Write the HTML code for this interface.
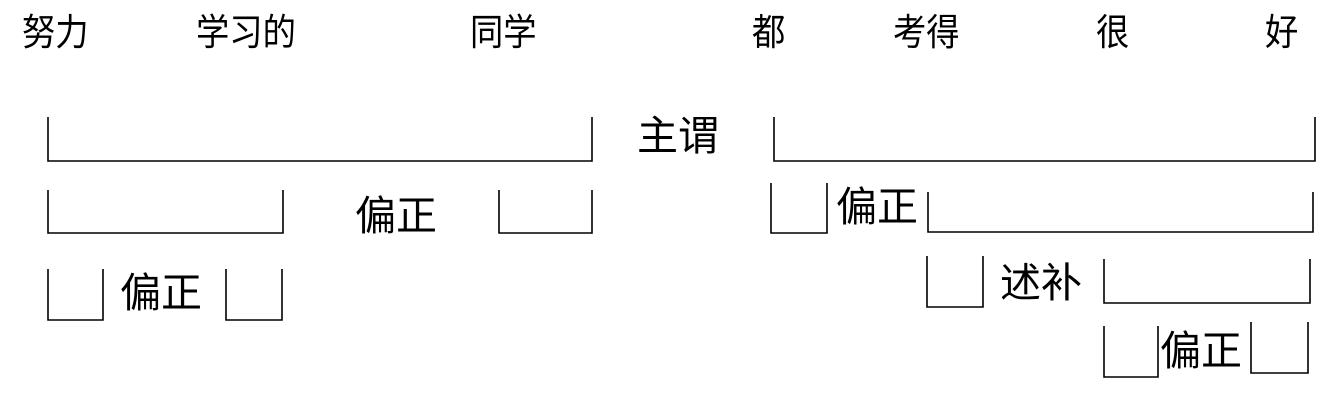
<!DOCTYPE html>
<html><head><meta charset="utf-8"><style>
html,body{margin:0;padding:0;background:#fff;}
svg{display:block}
text{font-family:"Liberation Sans","Noto Sans CJK SC",sans-serif;fill:#000;dominant-baseline:central}
</style></head><body>
<svg width="1338" height="410" viewBox="0 0 1338 410">
<g font-size="37">
<text x="22" y="33" transform="translate(22 0) scale(0.9 1) translate(-22 0)">努力</text>
<text x="196" y="33" transform="translate(196 0) scale(0.9 1) translate(-196 0)">学习的</text>
<text x="470" y="33" transform="translate(470 0) scale(0.9 1) translate(-470 0)">同学</text>
<text x="752" y="33" transform="translate(752 0) scale(0.9 1) translate(-752 0)">都</text>
<text x="893" y="33" transform="translate(893 0) scale(0.9 1) translate(-893 0)">考得</text>
<text x="1096" y="33" transform="translate(1096 0) scale(0.9 1) translate(-1096 0)">很</text>
<text x="1265" y="33" transform="translate(1265 0) scale(0.9 1) translate(-1265 0)">好</text>
</g>
<g fill="none" stroke="#000" stroke-width="1.6">
<path d="M48 117V161H592V117"/>
<path d="M48 190V233H283V190"/>
<path d="M499 190V233H592V190"/>
<path d="M48 269V320H103V269"/>
<path d="M226 269V320H282V269"/>
<path d="M774 117V161H1315V117"/>
<path d="M771 183V233H827V183"/>
<path d="M928 192V232H1313V192"/>
<path d="M927 256V307H983V256"/>
<path d="M1104 259V303H1310V259"/>
<path d="M1104 326V377H1158V326"/>
<path d="M1251 322V373H1308V322"/>
</g>
<g font-size="41">
<text x="637" y="136">主谓</text>
<text x="355" y="216">偏正</text>
<text x="120" y="293">偏正</text>
<text x="836" y="207">偏正</text>
<text x="1000" y="283">述补</text>
<text x="1160" y="351">偏正</text>
</g>
</svg>
</body></html>
